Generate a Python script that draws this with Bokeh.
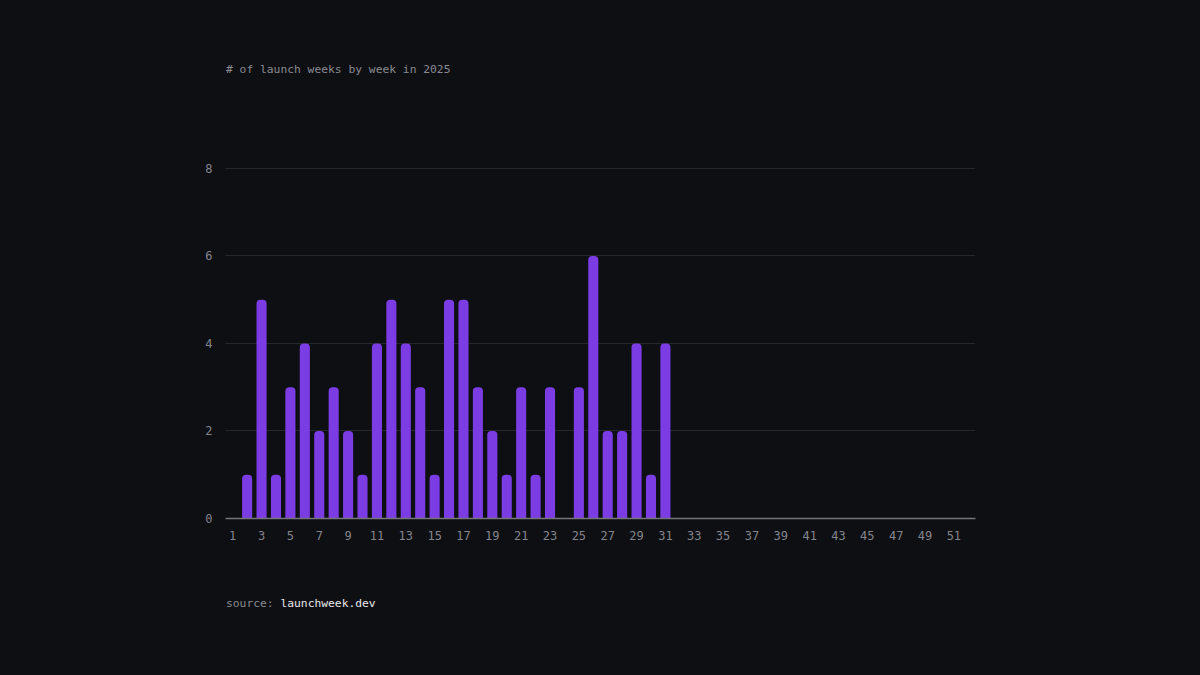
from bokeh.plotting import figure
from bokeh.models import Range1d, FixedTicker, Div
from bokeh.layouts import column
from bokeh.embed import file_html
from bokeh.resources import INLINE

weeks = list(range(1, 53))
launches = [0, 1, 5, 1, 3, 4, 2, 3, 2, 1,
            4, 5, 4, 3, 1, 5, 5, 3, 2, 1,
            3, 1, 3, 0, 3, 6, 2, 2, 4, 1,
            4, 0, 0, 0, 0, 0, 0, 0, 0, 0,
            0, 0, 0, 0, 0, 0, 0, 0, 0, 0,
            0, 0]
x_ticks = [1, 3, 5, 7, 9, 11, 13, 15, 17, 19, 21, 23, 25,
           27, 29, 31, 33, 35, 37, 39, 41, 43, 45, 47, 49, 51]
y_ticks = [0, 2, 4, 6, 8]
title_text = "# of launch weeks by week in 2025"
source_prefix = "source:"
source_name = "launchweek.dev"

BG = "#0e0f13"
FONT = "DejaVu Sans Mono"

p = figure(x_range=Range1d(0.5, 52.5), y_range=Range1d(0, 8.0457),
           frame_width=750, frame_height=352,
           min_border_left=225, min_border_right=225,
           min_border_top=66, min_border_bottom=57,
           output_backend="svg", toolbar_location=None,
           background_fill_color=BG, border_fill_color=BG,
           outline_line_color=None)

p.vbar(x=weeks, top=launches, bottom=0, width=0.7,
       fill_color="#7b3ce3", line_color=None,
       border_radius=(4, 4, 0, 0))

p.xgrid.grid_line_color = None
p.ygrid.grid_line_color = "#26272c"
p.ygrid.grid_line_width = 1
p.yaxis.ticker = FixedTicker(ticks=y_ticks)
p.xaxis.ticker = FixedTicker(ticks=x_ticks)

for ax in (p.xaxis[0], p.yaxis[0]):
    ax.major_tick_line_color = None
    ax.minor_tick_line_color = None
    ax.major_tick_out = 0
    ax.major_tick_in = 0
    ax.minor_tick_out = 0
    ax.minor_tick_in = 0
    ax.major_label_text_font = FONT
    ax.major_label_text_font_size = "12px"
    ax.major_label_text_color = "#84848d"

p.xaxis.major_label_standoff = 12
p.yaxis.major_label_standoff = 13
p.yaxis.axis_line_color = None
p.xaxis.axis_line_color = "#74747a"
p.xaxis.axis_line_width = 1.5

text_style = "font-family:'DejaVu Sans Mono',monospace;font-size:11.3px;line-height:14px;white-space:pre;"
title_div = Div(
    text='<div style="%spadding-left:226px;padding-top:63px;color:#8a8a91;">%s</div>'
         % (text_style, title_text),
    width=1200, height=100, margin=0,
    styles={"background-color": BG})
source_div = Div(
    text='<div style="%spadding-left:226px;padding-top:22px;color:#8a8a91;">%s <span style="color:#e8e8ec;">%s</span></div>'
         % (text_style, source_prefix, source_name),
    width=1200, height=100, margin=0,
    styles={"background-color": BG})

layout = column(title_div, p, source_div, spacing=0, margin=0,
                styles={"background-color": BG})

html = file_html(layout, INLINE)
html = html.replace("<head>", "<head><style>html,body{background:%s;margin:0;}</style>" % BG, 1)
open("out.html", "w").write(html)
